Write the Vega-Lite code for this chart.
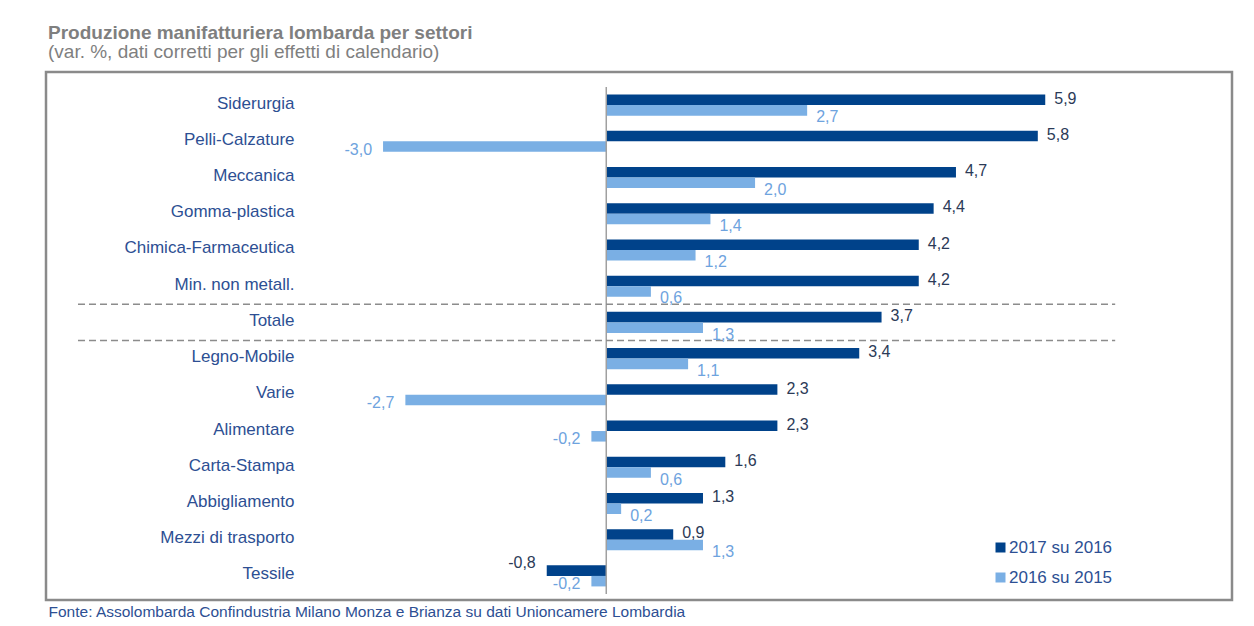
{
  "$schema": "https://vega.github.io/schema/vega-lite/v6.json",
  "width": 1186,
  "height": 528,
  "autosize": {"type": "none"},
  "padding": {"left": 46, "top": 72, "right": 22, "bottom": 26},
  "background": "white",
  "config": {
    "font": "Liberation Sans",
    "view": {"stroke": "#8a8a8a", "strokeWidth": 2.5},
    "locale": {"number": {"decimal": ",", "thousands": ".", "grouping": [3], "currency": ["", " €"], "minus": "-"}}
  },
  "title": {
    "text": "Produzione manifatturiera lombarda per settori",
    "subtitle": "(var. %, dati corretti per gli effetti di calendario)",
    "anchor": "start",
    "frame": "group",
    "offset": 10,
    "dx": 2,
    "font": "Liberation Sans",
    "color": "#7f7f7f",
    "fontSize": 19,
    "fontWeight": "bold",
    "subtitleFont": "Liberation Sans",
    "subtitleColor": "#7f7f7f",
    "subtitleFontSize": 19,
    "subtitlePadding": 0
  },
  "datasets": {
    "values": [
      {"sector": "Siderurgia", "series": "2017 su 2016", "value": 5.9},
      {"sector": "Siderurgia", "series": "2016 su 2015", "value": 2.7},
      {"sector": "Pelli-Calzature", "series": "2017 su 2016", "value": 5.8},
      {"sector": "Pelli-Calzature", "series": "2016 su 2015", "value": -3.0},
      {"sector": "Meccanica", "series": "2017 su 2016", "value": 4.7},
      {"sector": "Meccanica", "series": "2016 su 2015", "value": 2.0},
      {"sector": "Gomma-plastica", "series": "2017 su 2016", "value": 4.4},
      {"sector": "Gomma-plastica", "series": "2016 su 2015", "value": 1.4},
      {"sector": "Chimica-Farmaceutica", "series": "2017 su 2016", "value": 4.2},
      {"sector": "Chimica-Farmaceutica", "series": "2016 su 2015", "value": 1.2},
      {"sector": "Min. non metall.", "series": "2017 su 2016", "value": 4.2},
      {"sector": "Min. non metall.", "series": "2016 su 2015", "value": 0.6},
      {"sector": "Totale", "series": "2017 su 2016", "value": 3.7},
      {"sector": "Totale", "series": "2016 su 2015", "value": 1.3},
      {"sector": "Legno-Mobile", "series": "2017 su 2016", "value": 3.4},
      {"sector": "Legno-Mobile", "series": "2016 su 2015", "value": 1.1},
      {"sector": "Varie", "series": "2017 su 2016", "value": 2.3},
      {"sector": "Varie", "series": "2016 su 2015", "value": -2.7},
      {"sector": "Alimentare", "series": "2017 su 2016", "value": 2.3},
      {"sector": "Alimentare", "series": "2016 su 2015", "value": -0.2},
      {"sector": "Carta-Stampa", "series": "2017 su 2016", "value": 1.6},
      {"sector": "Carta-Stampa", "series": "2016 su 2015", "value": 0.6},
      {"sector": "Abbigliamento", "series": "2017 su 2016", "value": 1.3},
      {"sector": "Abbigliamento", "series": "2016 su 2015", "value": 0.2},
      {"sector": "Mezzi di trasporto", "series": "2017 su 2016", "value": 0.9},
      {"sector": "Mezzi di trasporto", "series": "2016 su 2015", "value": 1.3},
      {"sector": "Tessile", "series": "2017 su 2016", "value": -0.8},
      {"sector": "Tessile", "series": "2016 su 2015", "value": -0.2}
    ],
    "separators": [{"sector": "Totale"}, {"sector": "Legno-Mobile"}]
  },
  "layer": [
    {
      "data": {"name": "values"},
      "mark": {"type": "bar"},
      "encoding": {
        "y": {
          "field": "sector",
          "type": "nominal",
          "sort": null,
          "scale": {
            "domain": ["Siderurgia", "Pelli-Calzature", "Meccanica", "Gomma-plastica", "Chimica-Farmaceutica", "Min. non metall.", "Totale", "Legno-Mobile", "Varie", "Alimentare", "Carta-Stampa", "Abbigliamento", "Mezzi di trasporto", "Tessile"],
            "range": [15, 522],
            "paddingInner": 0,
            "paddingOuter": 0
          },
          "axis": {
            "title": null,
            "orient": "left",
            "offset": -248,
            "domain": false,
            "ticks": false,
            "grid": false,
            "labelPadding": 0,
            "labelOffset": -1.5,
            "labelFont": "Liberation Sans",
            "labelFontSize": 17,
            "labelColor": "#2d4f93"
          }
        },
        "yOffset": {
          "field": "series",
          "type": "nominal",
          "sort": ["2017 su 2016", "2016 su 2015"],
          "scale": {"domain": ["2017 su 2016", "2016 su 2015"], "paddingInner": 0, "paddingOuter": 0.72}
        },
        "x": {
          "field": "value",
          "type": "quantitative",
          "scale": {"domain": [-7.53, 8.41], "nice": false},
          "axis": {
            "title": "Fonte: Assolombarda Confindustria Milano Monza e Brianza su dati Unioncamere Lombardia",
            "labels": false,
            "ticks": false,
            "domain": false,
            "grid": false,
            "titleAnchor": "start",
            "titleAlign": "left",
            "titleX": 2,
            "titlePadding": 4,
            "titleFont": "Liberation Sans",
            "titleFontSize": 15.5,
            "titleFontWeight": "normal",
            "titleColor": "#2d4f93"
          }
        },
        "color": {
          "field": "series",
          "type": "nominal",
          "scale": {"domain": ["2017 su 2016", "2016 su 2015"], "range": ["#00428a", "#7aafe4"]},
          "legend": {
            "title": null,
            "orient": "none",
            "direction": "vertical",
            "legendX": 946,
            "legendY": 467,
            "symbolType": "square",
            "symbolSize": 100,
            "symbolStrokeWidth": 0,
            "labelFont": "Liberation Sans",
            "labelFontSize": 17,
            "labelColor": "#2d4f93",
            "labelOffset": 0,
            "rowPadding": 12
          }
        }
      }
    },
    {
      "data": {"values": [{}]},
      "mark": {"type": "rule", "color": "#a0a0a0", "strokeWidth": 1.5},
      "encoding": {
        "x": {"datum": 0},
        "y": {"datum": "Siderurgia", "bandPosition": 0},
        "y2": {"datum": "Tessile", "bandPosition": 1}
      }
    },
    {
      "data": {"name": "separators"},
      "mark": {"type": "rule", "color": "#8c8c8c", "strokeWidth": 1.5, "strokeDash": [7, 4]},
      "encoding": {
        "y": {"field": "sector", "type": "nominal", "bandPosition": 0},
        "x": {"datum": -7.1},
        "x2": {"datum": 6.84}
      }
    },
    {
      "data": {"name": "values"},
      "mark": {
        "type": "text",
        "font": "Liberation Sans",
        "fontSize": 16,
        "baseline": "middle",
        "align": {"expr": "datum.value < 0 ? 'right' : 'left'"},
        "dx": {"expr": "datum.value < 0 ? -11 : 9"},
        "dy": {"expr": "datum.series == '2017 su 2016' ? (datum.value < 0 ? -8 : -1) : (datum.value < 0 ? 3 : 7)"}
      },
      "encoding": {
        "y": {"field": "sector", "type": "nominal"},
        "yOffset": {"field": "series", "type": "nominal", "sort": ["2017 su 2016", "2016 su 2015"]},
        "x": {"field": "value", "type": "quantitative"},
        "text": {"field": "value", "type": "quantitative", "format": ".1f"},
        "color": {
          "condition": {"test": "datum.series == '2017 su 2016'", "value": "#2b3a57"},
          "value": "#6ea3de"
        }
      }
    }
  ]
}
